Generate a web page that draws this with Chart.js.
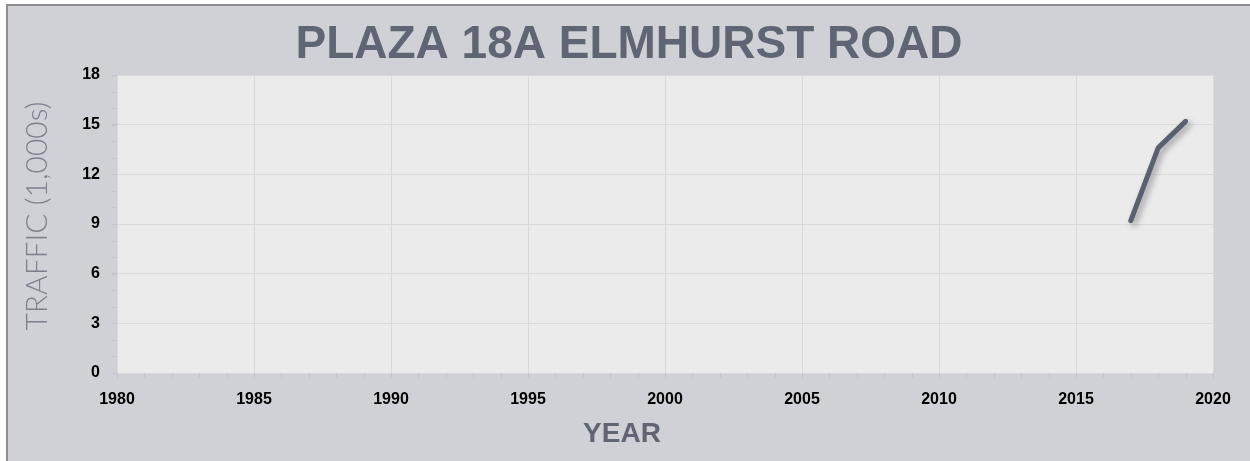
<!DOCTYPE html>
<html>
<head>
<meta charset="utf-8">
<script src="https://cdn.jsdelivr.net/npm/chart.js@4.4.1/dist/chart.umd.min.js"></script>
<style>
  body { margin: 0; background: #fff; }
  #frame {
    position: absolute; left: 6px; top: 4px; width: 1244px; height: 457px;
    background: #d0d1d6; border-top: 2px solid #8c8c8c; border-left: 2px solid #8c8c8c;
    box-sizing: border-box;
  }
  #wrap { position: absolute; left: 0; top: 0; width: 1250px; height: 461px; }
</style>
</head>
<body>
<div id="frame"></div>
<div id="wrap"><canvas id="traffic-chart" width="1250" height="461"></canvas></div>
<script>
// traffic counts, thousands of vehicles
const years = [2017, 2018, 2019];
const traffic = [9.2, 13.6, 15.2];
const xTicks = [1980, 1985, 1990, 1995, 2000, 2005, 2010, 2015, 2020];
const yTicks = [0, 3, 6, 9, 12, 15, 18];

const chartTitle = 'PLAZA 18A ELMHURST ROAD';
const xTitle = 'YEAR';
const yTitle = 'TRAFFIC (1,000s)';

const titleColor = '#5f6573';
const lineColor = '#596070';
const sansBold = "'Liberation Sans', Arial, sans-serif";

// plot background + minor tick marks
const plotDecor = {
    id: 'plotDecor',
    beforeDraw(chart) {
        const { ctx, chartArea } = chart;
        ctx.save();
        ctx.fillStyle = '#ebebeb';
        ctx.fillRect(chartArea.left, chartArea.top, chartArea.right - chartArea.left, chartArea.bottom - chartArea.top);
        ctx.restore();
    },
    afterDraw(chart) {
        const { ctx, chartArea, scales } = chart;
        ctx.save();
        ctx.strokeStyle = '#c4c5ca';
        ctx.lineWidth = 1;
        ctx.beginPath();
        for (let yr = 1980; yr <= 2020; yr++) {
            const x = Math.round(scales.x.getPixelForValue(yr)) + 0.5;
            ctx.moveTo(x, chartArea.bottom);
            ctx.lineTo(x, chartArea.bottom + 5);
        }
        for (let v = 0; v <= 18; v++) {
            const y = Math.round(scales.y.getPixelForValue(v)) + 0.5;
            ctx.moveTo(chartArea.left - 5, y);
            ctx.lineTo(chartArea.left, y);
        }
        ctx.stroke();
        ctx.restore();
    }
};

// chart + axis titles, centred on the whole picture like the original
const titles = {
    id: 'titles',
    afterDraw(chart) {
        const ctx = chart.ctx;
        ctx.save();
        ctx.textAlign = 'center';
        ctx.textBaseline = 'middle';
        ctx.fillStyle = titleColor;
        ctx.font = 'bold 46px ' + sansBold;
        ctx.fillText(chartTitle, 629, 45);
        ctx.font = 'bold 28px ' + sansBold;
        ctx.fillText(xTitle, 622, 434);
        ctx.translate(37, 216);
        ctx.rotate(-Math.PI / 2);
        ctx.fillStyle = '#7b808d';
        ctx.font = "300 30px Lato, 'Open Sans', sans-serif";
        ctx.fillText(yTitle, 0, 0);
        ctx.restore();
    }
};

// soft drop shadow on the line
const lineShadow = {
    id: 'lineShadow',
    beforeDatasetsDraw(chart) {
        const ctx = chart.ctx;
        ctx.save();
        ctx.shadowColor = 'rgba(0,0,0,0.35)';
        ctx.shadowBlur = 6;
        ctx.shadowOffsetX = 3;
        ctx.shadowOffsetY = 3;
    },
    afterDatasetsDraw(chart) {
        chart.ctx.restore();
    }
};

new Chart(document.getElementById('traffic-chart'), {
    type: 'line',
    data: {
        datasets: [{
            data: years.map((y, i) => ({ x: y, y: traffic[i] })),
            borderColor: lineColor,
            borderWidth: 5,
            borderCapStyle: 'round',
            borderJoinStyle: 'round',
            pointRadius: 0,
            tension: 0,
            fill: false
        }]
    },
    options: {
        responsive: false,
        animation: false,
        layout: { padding: { top: 75, right: 37, bottom: 0, left: 0 } },
        plugins: {
            legend: { display: false },
            tooltip: { enabled: false }
        },
        scales: {
            x: {
                type: 'linear',
                min: 1980,
                max: 2020,
                afterFit(scale) { scale.height = 88; },
                afterBuildTicks(scale) { scale.ticks = xTicks.map(v => ({ value: v })); },
                ticks: {
                    color: '#000',
                    padding: 12,
                    font: { family: sansBold, size: 16, weight: 'bold' },
                    callback: v => String(v)
                },
                grid: { color: '#d9d9d9', tickLength: 5, tickColor: '#c4c5ca' },
                border: { color: '#d9d9d9' }
            },
            y: {
                min: 0,
                max: 18,
                afterFit(scale) { scale.width = 117; },
                afterBuildTicks(scale) { scale.ticks = yTicks.map(v => ({ value: v })); },
                ticks: {
                    color: '#000',
                    padding: 12,
                    font: { family: sansBold, size: 16, weight: 'bold' }
                },
                grid: { color: '#d9d9d9', tickLength: 5, tickColor: '#c4c5ca' },
                border: { color: '#d9d9d9' }
            }
        }
    },
    plugins: [plotDecor, lineShadow, titles]
});
</script>
</body>
</html>
